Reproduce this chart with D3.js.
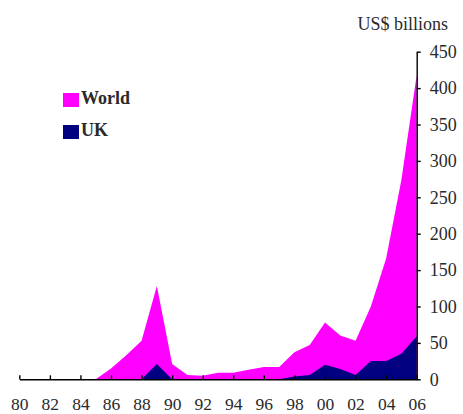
<!DOCTYPE html>
<html>
<head>
<meta charset="utf-8">
<script src="https://cdn.jsdelivr.net/npm/d3@7"></script>
<style>
  html, body { margin: 0; padding: 0; background: #fff; }
  svg { display: block; }
  svg text { font-family: 'Liberation Serif', 'DejaVu Serif', 'Times New Roman', serif; fill: #2a2a2a; }
</style>
</head>
<body>
<svg id="chart" width="463" height="414"></svg>
<script>
const years = d3.range(1980, 2007);
const world = [0,0,0,0,0,0,15,33,53,128,21,6,5,9,9,13,17,17,37,47,78,60,53,100,166,274,418];
const uk    = [0,0,0,0,0,0,0,0,0,21,0,0,0,0,0,0,0,0,4,6,20,14,6,25,25,35,59];
const xTickYears = d3.range(1980, 2007, 2);
const yTicks = [0,50,100,150,200,250,300,350,400,450];
const seriesNames = ["World", "UK"];
const colors = ["#ff00ff", "#000080"];
const unitLabel = "US$ billions";
const serif = "'Liberation Serif', 'DejaVu Serif', 'Times New Roman', serif";

const svg = d3.select("#chart");
const x = d3.scaleLinear().domain([1980, 2006]).range([19.3, 416.7]);
const y = d3.scaleLinear().domain([0, 450]).range([379.3, 51.7]);

const area = vals => d3.area()
  .x((d, i) => x(years[i]))
  .y0(y(0))
  .y1(d => y(d))(vals);

svg.append("path").attr("d", area(world)).attr("fill", colors[0]);
svg.append("path").attr("d", area(uk)).attr("fill", colors[1]);

// x axis
const xAxis = d3.axisBottom(x)
  .tickValues(xTickYears)
  .tickSizeInner(-4).tickSizeOuter(0)
  .tickFormat(d => String(d % 100).padStart(2, "0"));
const gx = svg.append("g").attr("transform", `translate(0,${y(0)})`).call(xAxis)
  .attr("font-family", serif).attr("font-size", 17);
gx.select(".domain").attr("stroke", "#000").attr("stroke-width", 1.4);
gx.selectAll(".tick line").attr("stroke", "#000").attr("stroke-width", 1.4);
gx.selectAll(".tick text").attr("y", 30.5).attr("dy", 0)
  .style("font-size", "17.5px").style("font-family", serif);

// y axis on right
const yAxis = d3.axisRight(y)
  .tickValues(yTicks)
  .tickSizeInner(4).tickSizeOuter(0)
  .tickFormat(d3.format("d"));
const gy = svg.append("g").attr("transform", `translate(${x(2006)},0)`).call(yAxis)
  .attr("font-family", serif).attr("font-size", 17);
gy.select(".domain").attr("stroke", "#000").attr("stroke-width", 1.4);
gy.selectAll(".tick line").attr("stroke", "#000").attr("stroke-width", 1.4);
gy.selectAll(".tick text").attr("x", 13)
  .style("font-size", "18px").style("font-family", serif);

// unit label
svg.append("text").attr("x", 448).attr("y", 30).attr("text-anchor", "end")
  .style("font-size", "18px").style("font-family", serif).text(unitLabel);

// legend
const lg = svg.append("g");
seriesNames.forEach((name, i) => {
  const yy = 93 + i * 32;
  lg.append("rect").attr("x", 63).attr("y", yy).attr("width", 16).attr("height", 14)
    .attr("fill", colors[i]);
  lg.append("text").attr("x", 81).attr("y", yy + 11)
    .style("font-size", "18px").style("font-weight", "bold").style("font-family", serif).text(name);
});
</script>
</body>
</html>
